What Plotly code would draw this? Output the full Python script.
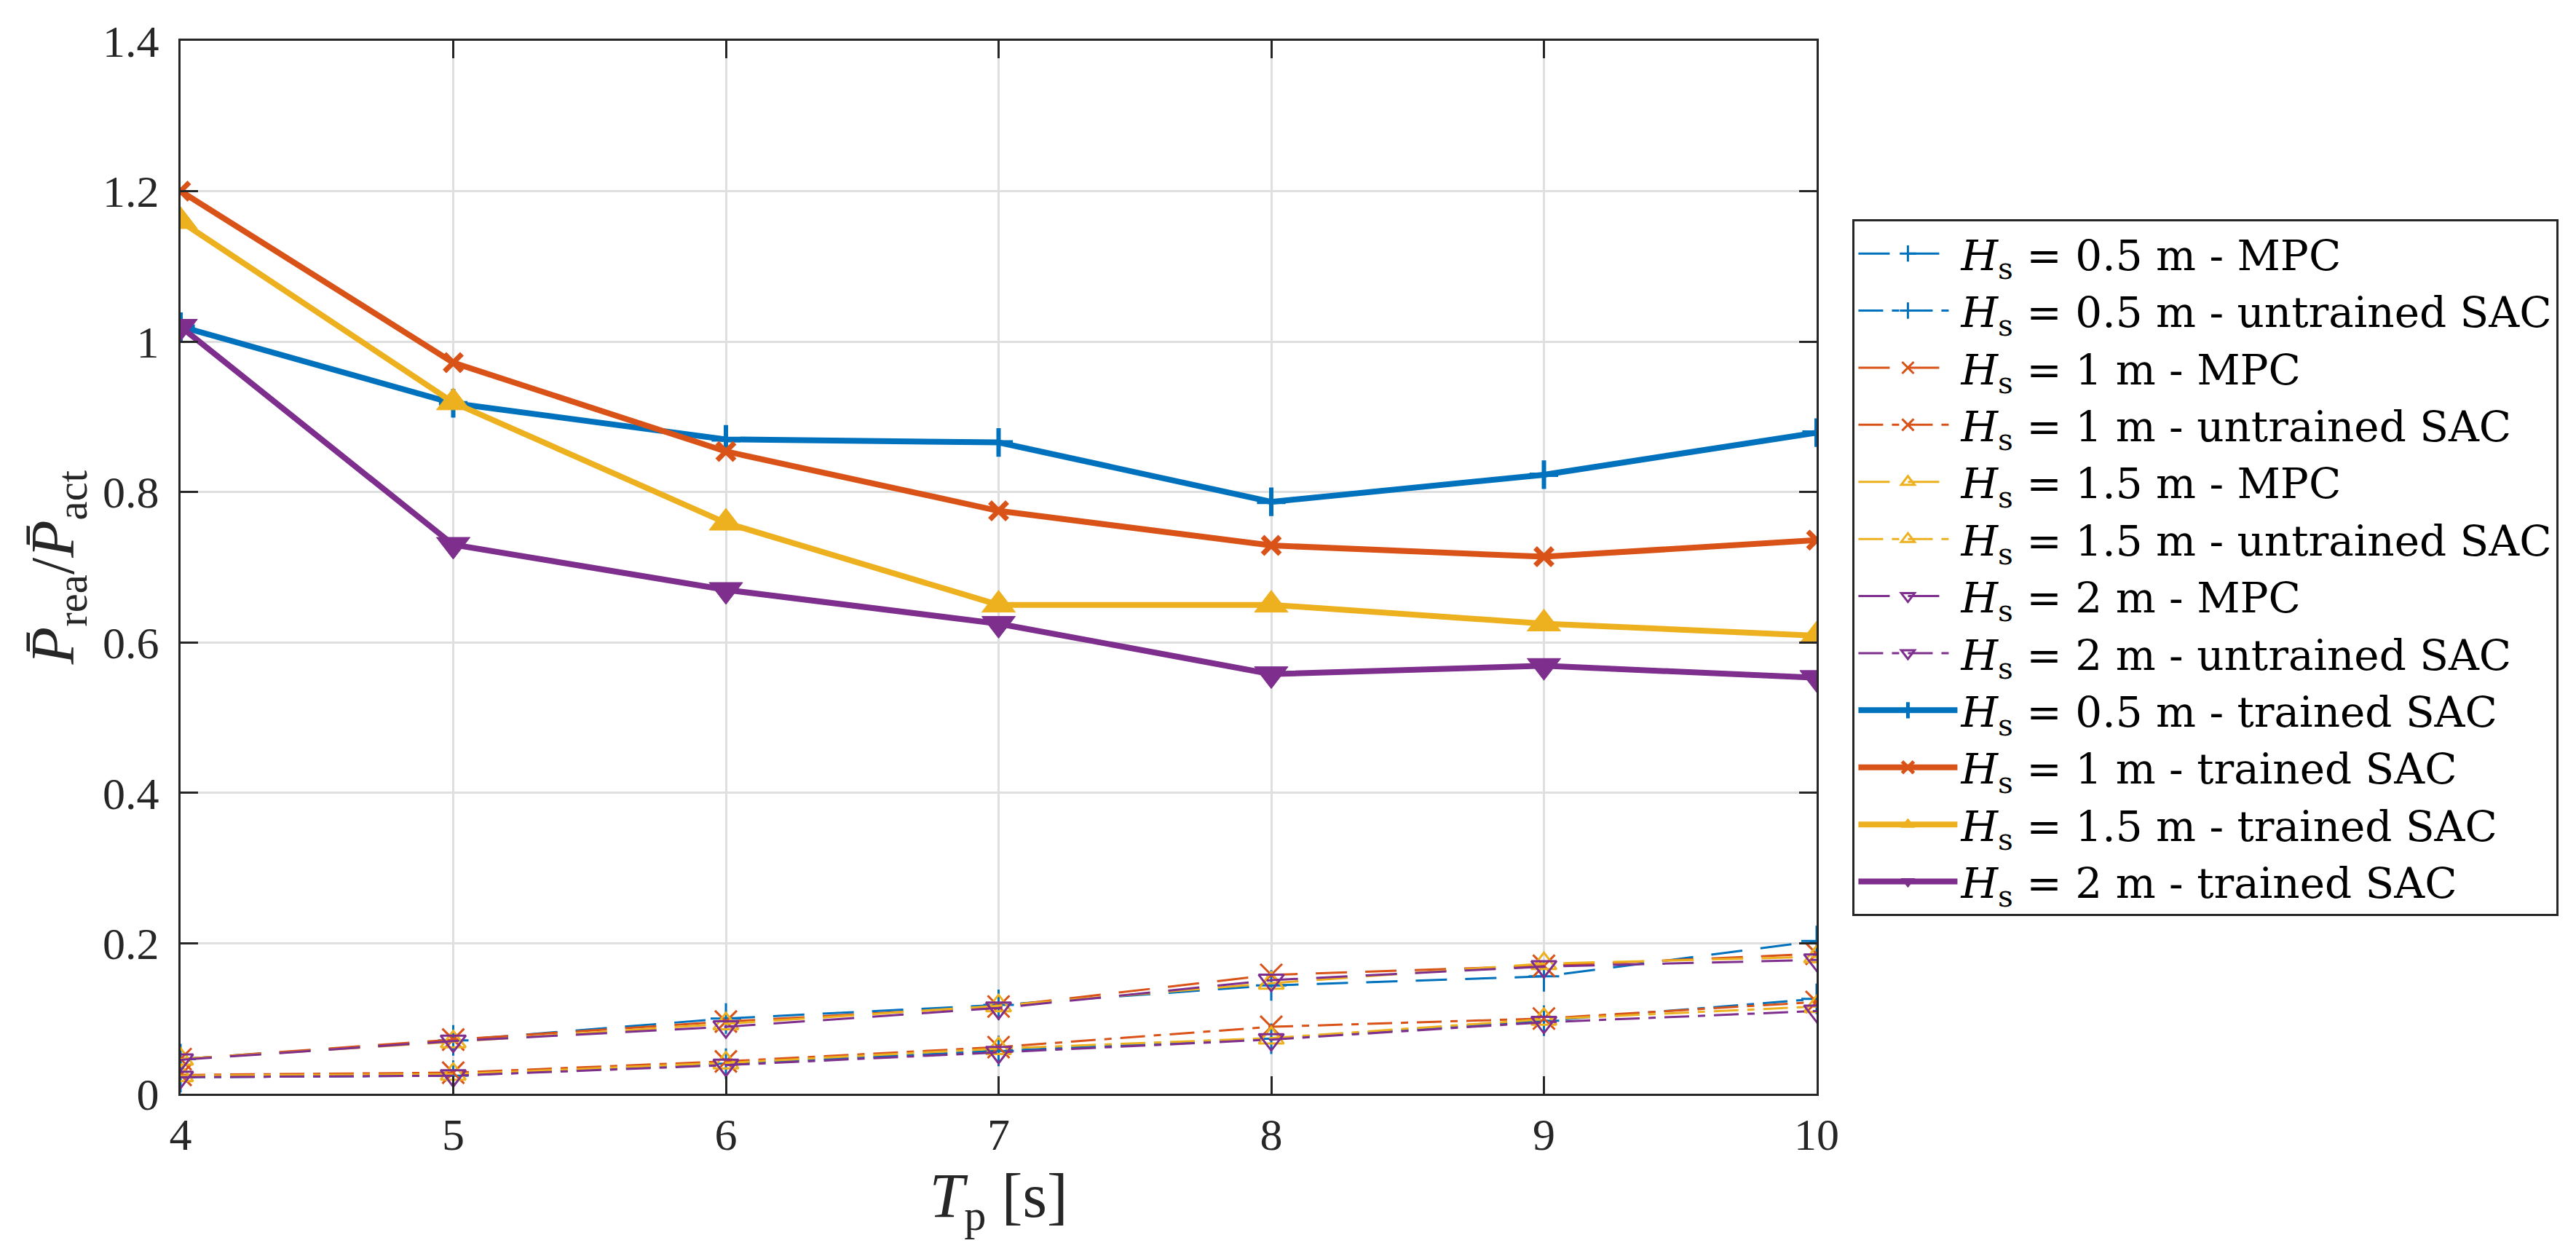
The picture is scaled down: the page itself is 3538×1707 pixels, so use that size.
import plotly.graph_objects as go

# ---------------- data ----------------
Tp = [4, 5, 6, 7, 8, 9, 10]

hs_labels = ["0.5", "1", "1.5", "2"]

mpc_05 = [0.046, 0.071, 0.100, 0.118, 0.144, 0.156, 0.203]
mpc_1 = [0.046, 0.072, 0.096, 0.116, 0.158, 0.170, 0.186]
mpc_15 = [0.046, 0.069, 0.093, 0.117, 0.147, 0.173, 0.182]
mpc_2 = [0.045, 0.070, 0.089, 0.114, 0.151, 0.169, 0.178]

untrained_05 = [0.022, 0.024, 0.040, 0.057, 0.073, 0.097, 0.126]
untrained_1 = [0.025, 0.028, 0.043, 0.062, 0.089, 0.100, 0.122]
untrained_15 = [0.024, 0.026, 0.041, 0.060, 0.074, 0.099, 0.116]
untrained_2 = [0.022, 0.024, 0.038, 0.055, 0.072, 0.095, 0.110]

trained_05 = [1.020, 0.918, 0.870, 0.866, 0.787, 0.823, 0.879]
trained_1 = [1.200, 0.972, 0.854, 0.775, 0.729, 0.714, 0.736]
trained_15 = [1.160, 0.919, 0.759, 0.650, 0.650, 0.625, 0.609]
trained_2 = [1.020, 0.730, 0.670, 0.625, 0.558, 0.569, 0.553]

y_tickvals = [0, 0.2, 0.4, 0.6, 0.8, 1.0, 1.2, 1.4]
y_ticktext = ["0", "0.2", "0.4", "0.6", "0.8", "1", "1.2", "1.4"]
x_tickvals = [4, 5, 6, 7, 8, 9, 10]
x_ticktext = ["4", "5", "6", "7", "8", "9", "10"]

# ---------------- styles ----------------
colors = ["#0072BD", "#D95319", "#EDB120", "#7E2F8E"]
open_symbols = ["cross-thin-open", "x-thin-open", "triangle-up-open", "triangle-down-open"]
filled_symbols = ["cross-thin", "x-thin", "triangle-up", "triangle-down"]

mpc_series = [mpc_05, mpc_1, mpc_15, mpc_2]
untrained_series = [untrained_05, untrained_1, untrained_15, untrained_2]
trained_series = [trained_05, trained_1, trained_15, trained_2]

FONT = "Liberation Serif, DejaVu Serif, serif"
LEGEND_FONT = "DejaVu Serif, Liberation Serif, serif"
DARK = "#262626"

fig = go.Figure()


def label(hs, method):
    return f"<i>H</i><sub>s</sub> = {hs} m - {method}"


for i in range(4):
    fig.add_trace(go.Scatter(
        x=Tp, y=mpc_series[i], mode="lines+markers",
        name=label(hs_labels[i], "MPC"),
        line=dict(color=colors[i], width=3, dash="43px,25px"),
        marker=dict(symbol=open_symbols[i], size=30, color=colors[i],
                    line=dict(color=colors[i], width=3)),
    ))
    fig.add_trace(go.Scatter(
        x=Tp, y=untrained_series[i], mode="lines+markers",
        name=label(hs_labels[i], "untrained SAC"),
        line=dict(color=colors[i], width=3, dash="34px,12px,10px,12px"),
        marker=dict(symbol=open_symbols[i], size=30, color=colors[i],
                    line=dict(color=colors[i], width=3)),
    ))

trained_sizes = [28, 24, 40, 40]
trained_lw = [6, 7, 1, 1]
for i in range(4):
    fig.add_trace(go.Scatter(
        x=Tp, y=trained_series[i], mode="lines+markers",
        name=label(hs_labels[i], "trained SAC"),
        line=dict(color=colors[i], width=8),
        marker=dict(symbol=filled_symbols[i], size=trained_sizes[i], color=colors[i],
                    line=dict(color=colors[i], width=trained_lw[i])),
    ))

axis_common = dict(
    showline=True, linecolor=DARK, linewidth=3, mirror="ticks",
    ticks="inside", ticklen=24, tickwidth=3, tickcolor=DARK,
    showgrid=True, gridcolor="#DFDFDF", gridwidth=3,
    zeroline=False,
    tickfont=dict(family=FONT, size=62, color=DARK),
)

fig.update_layout(
    width=3538, height=1707,
    margin=dict(l=240, r=1051, t=48, b=213),
    paper_bgcolor="white", plot_bgcolor="white",
    font=dict(family=FONT, color=DARK),
    xaxis=dict(range=[4, 10], tickvals=x_tickvals, ticktext=x_ticktext,
               title=dict(text="<i>T</i><sub>p</sub> [s]", font=dict(family=FONT, size=86, color=DARK),
                          standoff=20),
               **axis_common),
    yaxis=dict(range=[0, 1.4], tickvals=y_tickvals, ticktext=y_ticktext,
               ticklabelstandoff=14,
               title=dict(text="<i>P\u0304</i><sub>rea</sub>/<i>P\u0304</i><sub>act</sub>",
                          font=dict(family=FONT, size=84, color=DARK), standoff=12),
               **axis_common),
    legend=dict(
        x=1.022, y=0.8306, xanchor="left", yanchor="top",
        bgcolor="white", bordercolor=DARK, borderwidth=3,
        font=dict(family=LEGEND_FONT, size=58, color="black"),
        tracegroupgap=0, itemwidth=136,
    ),
    showlegend=True,
)

fig.write_html("out.html")
